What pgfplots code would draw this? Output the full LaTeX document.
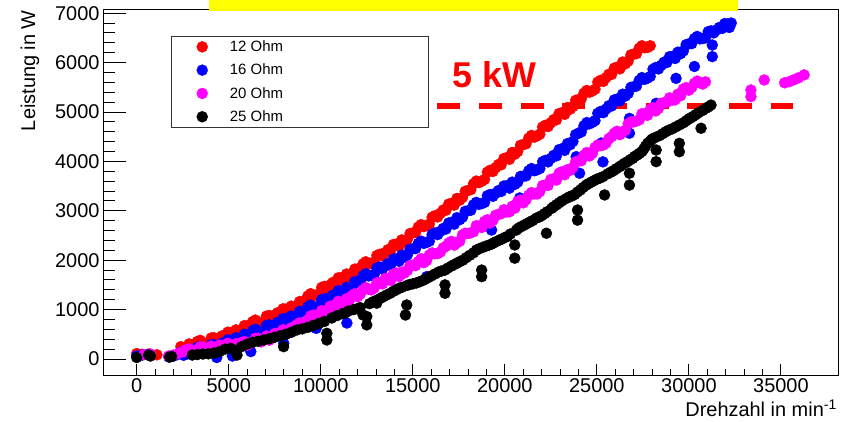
\documentclass[border=0pt]{standalone}
\usepackage{pgfplots}
\pgfplotsset{compat=1.18}
\usepackage{fontspec}
\setmainfont{Liberation Sans}
\definecolor{rootred}{RGB}{255,0,0}
\definecolor{rootblue}{RGB}{0,0,255}
\definecolor{rootmag}{RGB}{255,0,255}
\definecolor{rootyellow}{RGB}{255,255,0}
\pgfplotsset{common/.style={scale only axis, width=735bp, height=366bp,
  xmin=-1830, xmax=38100, ymin=-324, ymax=7084,
  /pgf/number format/1000 sep={}, scaled ticks=false,
  /pgf/number format/assume math mode=true}}
\begin{document}
\begin{tikzpicture}
\path[use as bounding box] (-103bp,-47bp) rectangle (747bp,375bp);
\begin{axis}[common,
  axis line style={line width=0.9bp, black},
  xtick={0,5000,10000,15000,20000,25000,30000,35000},
  xticklabels={0,5000,10000,15000,20000,25000,30000,35000},
  ytick={0,1000,2000,3000,4000,5000,6000,7000},
  yticklabels={0,1000,2000,3000,4000,5000,6000,7000},
  minor x tick num=4, minor y tick num=4,
  xtick pos=bottom, ytick pos=left, tick align=inside,
  major tick length=23bp, minor tick length=12bp,
  x tick style={draw=none},
  y tick style={line width=0.9bp, black},
  ticklabel style={font=\fontsize{20}{20}\selectfont},
  xlabel={Drehzahl in min\textsuperscript{-1}},
  ylabel={Leistung in W},
  xlabel style={at={(axis description cs:0.9986,-0.114)}, anchor=base east, inner sep=0pt, font=\fontsize{20}{20}\selectfont},
  ylabel style={at={(axis description cs:-0.0925,0.997)}, anchor=base east, inner sep=0pt, font=\fontsize{20}{20}\selectfont},
  legend style={at={(axis description cs:0.127,0.9194)}, anchor=north west, draw=none, fill=none, inner sep=0pt,
    font=\fontsize{15}{18}\selectfont, row sep=7bp},
  legend image code/.code={\draw[#1] plot coordinates {(5.5bp,0bp)}; \path (0bp,0bp) (31bp,0bp);},
  legend cell align=left,
]
\addplot[only marks, mark=*, mark size=5.5bp, color=rootred] table {
x y
0 110
300 95
700 100
1100 85
2400 250
2700 210
3000 290
3300 355
3600 310
3900 310
4200 430
4500 430
4800 440
5100 535
5400 590
5700 570
6000 670
6300 755
6600 730
6900 745
7200 880
7500 890
7800 910
8100 1010
8400 1070
8700 1055
9000 1160
9300 1275
9600 1280
9900 1315
10200 1470
10500 1495
10800 1530
11100 1645
11400 1720
11700 1710
12000 1820
12300 1925
12600 1920
12900 1960
13200 2120
13500 2155
13800 2200
14100 2325
14400 2410
14700 2420
15000 2550
15300 2670
15600 2680
15900 2730
16200 2900
16500 2950
16800 3010
17100 3150
17400 3250
17700 3270
18000 3410
18300 3545
18600 3570
18900 3635
19200 3820
19500 3870
19800 3930
20100 4075
20400 4180
20700 4200
21000 4340
21300 4470
21600 4490
21900 4550
22200 4730
22500 4780
22800 4840
23100 4985
23400 5090
23700 5110
24000 5250
24300 5380
24600 5400
24900 5460
25200 5640
25500 5695
25800 5760
26100 5905
26400 6010
26700 6030
27000 6170
27300 6290
27600 6300
27900 6340
2550 185
2850 305
3150 272
3450 378
3750 305
4050 425
4350 380
4650 470
4950 542
5250 478
5550 535
5850 675
6150 662
6450 788
6750 732
7050 868
7350 835
7650 935
7950 1015
8250 955
8550 1018
8850 1162
9150 1168
9450 1322
9750 1292
10050 1448
10350 1432
10650 1548
10950 1642
11250 1598
11550 1670
11850 1820
12150 1822
12450 1968
12750 1935
13050 2095
13350 2088
13650 2212
13950 2318
14250 2282
14550 2370
14850 2540
15150 2560
15450 2720
15750 2700
16050 2870
16350 2875
16650 3015
16950 3135
17250 3115
17550 3215
17850 3395
18150 3428
18450 3602
18750 3598
19050 3782
19350 3795
19650 3935
19950 4058
20250 4042
20550 4145
20850 4325
21150 4355
21450 4525
21750 4515
22050 4695
22350 4705
22650 4845
22950 4968
23250 4952
23550 5055
23850 5235
24150 5265
24450 5435
24750 5425
25050 5605
25350 5618
25650 5762
25950 5888
26250 5872
26550 5975
26850 6155
27150 6180
27450 6340
27750 6305
};
\addlegendentry{12 Ohm}
\addplot[only marks, mark=*, mark size=5.5bp, color=rootblue] table {
x y
0 60
300 80
600 95
1750 40
2000 60
2200 90
2400 140
2700 100
3000 180
3300 235
3600 180
3900 175
4200 290
4500 285
4800 290
5100 380
5400 430
5700 400
6000 490
6300 570
6600 540
6900 555
7200 690
7500 695
7800 710
8100 810
8400 870
8700 855
9000 960
9300 1055
9600 1040
9900 1070
10200 1220
10500 1240
10800 1270
11100 1380
11400 1450
11700 1450
12000 1570
12300 1680
12600 1680
12900 1710
13200 1860
13500 1880
13800 1910
14100 2025
14400 2100
14700 2105
15000 2230
15300 2340
15600 2340
15900 2385
16200 2550
16500 2585
16800 2630
17100 2765
17400 2860
17700 2870
18000 3000
18300 3120
18600 3130
18900 3170
19200 3330
19500 3355
19800 3390
20100 3505
20400 3580
20700 3580
21000 3700
21300 3810
21600 3810
21900 3855
22200 4020
22500 4060
22800 4110
23100 4255
23400 4360
23700 4405
24000 4570
24300 4720
24600 4760
24900 4825
25200 5010
25500 5060
25800 5120
26100 5260
26400 5360
26700 5375
27000 5510
27300 5640
27600 5660
27900 5720
28200 5900
28500 5945
28800 6000
29100 6125
29400 6210
29700 6235
30000 6380
30300 6485
30600 6480
30900 6500
31200 6640
31500 6660
31800 6690
32100 6780
32300 6800
2550 75
2850 195
3150 158
3450 252
3750 172
4050 288
4350 238
4650 322
4950 390
5250 320
5550 370
5850 500
6150 480
6450 600
6750 542
7050 678
7350 642
7650 738
7950 815
8250 755
8550 818
8850 962
9150 958
9450 1092
9750 1050
10050 1200
10350 1180
10650 1290
10950 1380
11250 1330
11550 1405
11850 1565
12150 1575
12450 1725
12750 1690
13050 1840
13350 1820
13650 1930
13950 2022
14250 1978
14550 2058
14850 2222
15150 2235
15450 2385
15750 2358
16050 2522
16350 2518
16650 2642
16950 2752
17250 2728
17550 2820
17850 2990
18150 3010
18450 3170
18750 3145
19050 3305
19350 3292
19650 3408
19950 3502
20250 3458
20550 3535
20850 3695
21150 3705
21450 3855
21750 3828
22050 3992
22350 3990
22650 4120
22950 4238
23250 4222
23550 4338
23850 4542
24150 4595
24450 4785
24750 4788
25050 4972
25350 4985
25650 5125
25950 5245
26250 5225
26550 5322
26850 5498
27150 5525
27450 5695
27750 5685
28050 5865
28350 5872
28650 6008
28950 6118
29250 6082
29550 6178
29850 6362
30150 6382
30450 6528
30750 6485
31050 6625
31350 6600
31650 6710
31950 6790
32200 6710
4350 30
5200 60
6200 150
7990 317
9750 620
11420 728
15750 1666
19280 2610
20810 3260
23880 4095
24060 3760
25240 4370
25330 3990
26770 4870
26770 4570
28220 5175
29300 5680
30300 5920
31270 6355
31270 6120
};
\addlegendentry{16 Ohm}
\addplot[only marks, mark=*, mark size=5.5bp, color=rootmag] table {
x y
400 90
750 100
1730 60
2000 80
2300 120
2550 150
2700 190
3000 130
3300 190
3600 240
3900 185
4200 170
4500 280
4800 260
5100 245
5400 310
5700 335
6000 280
6300 355
6600 420
6900 380
7200 380
7500 515
7800 520
8100 535
8400 630
8700 695
9000 680
9300 790
9600 890
9900 880
10200 910
10500 1065
10800 1090
11100 1115
11400 1220
11700 1285
12000 1260
12300 1400
12600 1410
12900 1435
13200 1540
13500 1630
13800 1590
14100 1740
14400 1760
14700 1790
15000 1900
15300 1970
15600 1950
15900 2105
16200 2130
16500 2165
16800 2280
17100 2380
17400 2350
17700 2510
18000 2540
18300 2575
18600 2690
18900 2785
19200 2750
19500 2910
19800 2940
20100 2975
20400 3090
20700 3190
21000 3160
21300 3315
21600 3340
21900 3390
22200 3520
22500 3635
22800 3620
23100 3790
23400 3830
23700 3880
24000 4010
24300 4125
24600 4110
24900 4280
25200 4320
25500 4370
25800 4500
26100 4610
26400 4590
26700 4760
27000 4800
27300 4840
27600 4960
27900 5055
28200 5020
28500 5175
28800 5200
29100 5240
29400 5360
29700 5465
30000 5440
30300 5580
30600 5590
30900 5610
2850 205
3150 155
3450 245
3750 158
4050 262
4350 200
4650 270
4950 318
5250 222
5550 248
5850 352
6150 312
6450 418
6750 345
7050 465
7350 422
7650 518
7950 592
8250 528
8550 588
8850 732
9150 730
9450 870
9750 830
10050 980
10350 962
10650 1078
10950 1168
11250 1112
11550 1178
11850 1322
12150 1315
12450 1445
12750 1398
13050 1542
13350 1520
13650 1630
13950 1720
14250 1670
14550 1740
14850 1890
15150 1890
15450 2030
15750 1992
16050 2148
16350 2132
16650 2248
16950 2345
17250 2305
17550 2385
17850 2545
18150 2552
18450 2698
18750 2662
19050 2818
19350 2805
19650 2925
19950 3022
20250 2978
20550 3055
20850 3215
21150 3222
21450 3368
21750 3340
22050 3510
22350 3512
22650 3648
22950 3760
23250 3730
23550 3820
23850 3990
24150 4012
24450 4178
24750 4160
25050 4330
25350 4330
25650 4460
25950 4570
26250 4540
26550 4630
26850 4800
27150 4815
27450 4965
27750 4932
28050 5088
28350 5072
28650 5188
28950 5285
29250 5245
29550 5328
29850 5492
30150 5495
30450 5625
30750 5565
33370 5445
33370 5310
34090 5647
35200 5590
35450 5612
35700 5650
35950 5690
36260 5750
};
\addlegendentry{20 Ohm}
\addplot[only marks, mark=*, mark size=5.5bp, color=black] table {
x y
0 30
650 80
750 60
1790 40
1900 50
3020 80
3300 90
3600 100
3900 105
4200 120
4500 150
4800 200
5100 215
5450 80
5450 180
5700 250
6000 300
6300 340
6600 360
6900 385
7200 410
7500 440
7800 470
7980 250
8100 500
8400 540
8700 587
9000 610
9300 640
9600 680
9900 720
10200 760
10330 385
10330 520
10600 830
10900 880
11200 920
11320 930
11500 970
11800 1000
12000 1020
12140 1040
12300 890
12500 690
12500 860
12650 1120
12850 1160
13040 1130
13100 1200
13250 1230
13400 1260
13600 1300
13770 1330
13950 1370
14100 1400
14250 1430
14400 1450
14600 890
14670 1093
14700 1490
14850 1510
15000 1520
15200 1540
15390 1565
15550 1590
15700 1620
15850 1650
16000 1680
16200 1720
16400 1760
16550 1780
16750 1330
16750 1500
16750 1800
16900 1840
17100 1880
17250 1910
17400 1940
17550 1970
17720 2000
17900 2050
18100 2100
18300 2150
18460 2206
18600 2230
18740 1800
18740 1666
18800 2260
18950 2280
19100 2300
19250 2320
19400 2350
19550 2380
19730 2410
19850 2430
20000 2460
20150 2480
20300 2530
20630 2610
20540 2307
20540 2040
20750 2650
20900 2680
21050 2710
21200 2740
21350 2770
21500 2800
21710 2850
21850 2870
22000 2900
22150 2940
22260 2545
22300 2980
22550 3050
22650 3080
22800 3120
22950 3160
23100 3200
23350 3250
23520 3285
23650 3300
23950 3015
23950 2810
23800 3330
23950 3380
24100 3420
24250 3470
24420 3520
24550 3550
24700 3580
24850 3610
25000 3640
25150 3660
25330 3690
25420 3320
25600 3750
25750 3780
25900 3810
26050 3850
26230 3890
26350 3920
26500 3960
26650 3990
26770 3760
26770 3520
26800 4030
26950 4060
27050 4100
27200 4130
27320 4163
27450 4200
27550 4250
27650 4310
27770 4370
27900 4410
28000 4450
28150 4480
28220 4230
28220 3994
28400 4520
28580 4560
28750 4600
28900 4630
29100 4660
29300 4700
29480 4365
29480 4195
29500 4740
29700 4780
29850 4820
30000 4860
30100 4880
30210 4905
30350 4940
30500 4980
30660 4670
30750 5030
30930 5075
31050 5100
31200 5140
};
\addlegendentry{25 Ohm}
\addplot[forget plot, rootred, line width=5.5bp, dash pattern=on 23bp off 18.7bp] coordinates {(16330,5120) (35665,5120)};
\node[anchor=base west, text=rootred, font=\bfseries\fontsize{36}{36}\selectfont, inner sep=0pt] at (axis cs:17137,5485) {5 kW};
\draw[black!80, line width=0.9bp] (axis description cs:0.0925,0.9262) rectangle (axis description cs:0.4422,0.6776);
\end{axis}
\begin{axis}[common,
  axis line style={draw=none},
  xtick={0,5000,10000,15000,20000,25000,30000,35000},
  minor x tick num=4, ytick=\empty,
  xtick pos=bottom, tick align=inside,
  major tick length=11bp, minor tick length=6bp,
  x tick style={line width=0.9bp, black},
  xticklabels={},
]
\end{axis}
\fill[rootyellow] (106bp,364bp) rectangle (635bp,375bp);
\end{tikzpicture}
\end{document}
